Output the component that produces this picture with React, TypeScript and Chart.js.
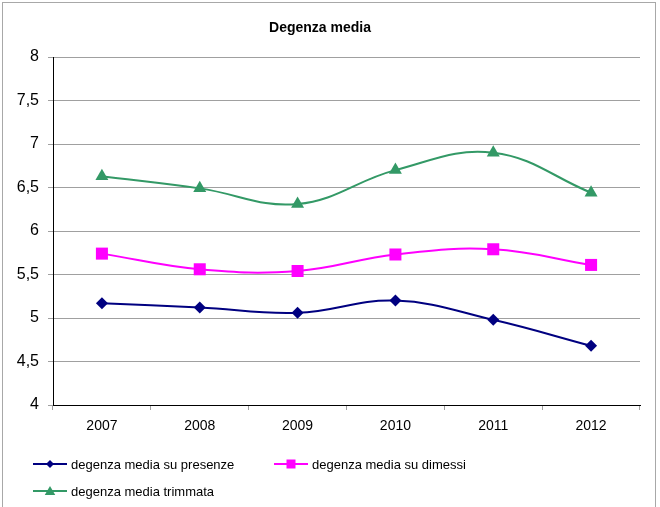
import React, { useEffect, useRef } from 'react';
import { Chart, registerables } from 'chart.js';

Chart.register(...registerables);

const categories = ['2007', '2008', '2009', '2010', '2011', '2012'];
const presenze = [5.17, 5.12, 5.06, 5.2, 4.98, 4.68];
const dimessi = [5.74, 5.56, 5.54, 5.73, 5.79, 5.61];
const trimmata = [6.63, 6.49, 6.31, 6.7, 6.9, 6.44];
const seriesLabels = ['degenza media su presenze', 'degenza media su dimessi', 'degenza media trimmata'];
const titleText = 'Degenza media';
const yMin = 4;
const yMax = 8;
const yStep = 0.5;

const FONT = '"Liberation Sans", Arial, sans-serif';

function drawMarker(ctx: CanvasRenderingContext2D, style: string, x: number, y: number, r: number, color: string) {
  ctx.save();
  ctx.fillStyle = color;
  ctx.beginPath();
  if (style === 'rectRot') {
    ctx.moveTo(x, y - r);
    ctx.lineTo(x + r, y);
    ctx.lineTo(x, y + r);
    ctx.lineTo(x - r, y);
  } else if (style === 'rect') {
    ctx.rect(x - r, y - r, 2 * r, 2 * r);
  } else {
    ctx.moveTo(x, y - r);
    ctx.lineTo(x + r * 1.05, y + r * 0.8);
    ctx.lineTo(x - r * 1.05, y + r * 0.8);
  }
  ctx.closePath();
  ctx.fill();
  ctx.restore();
}

const legendPlugin = {
  id: 'customLegend',
  beforeDraw(chart: any) {
    const ctx = chart.ctx;
    ctx.save();
    ctx.fillStyle = '#ffffff';
    ctx.fillRect(0, 0, chart.width, chart.height);
    ctx.strokeStyle = '#a8a8a8';
    ctx.lineWidth = 1;
    ctx.strokeRect(2.5, 2.5, 653, 520);
    ctx.restore();
  },
  afterDraw(chart: any) {
    const ctx = chart.ctx;
    const pos = [
      [33, 464],
      [274, 464],
      [33, 491],
    ];
    const markerSizes = [4, 4.5, 5];
    chart.data.datasets.forEach((ds: any, i: number) => {
      const [x, y] = pos[i];
      ctx.save();
      ctx.strokeStyle = ds.borderColor;
      ctx.lineWidth = 2;
      ctx.beginPath();
      ctx.moveTo(x, y);
      ctx.lineTo(x + 34, y);
      ctx.stroke();
      drawMarker(ctx, ds.pointStyle, x + 17, y, markerSizes[i], ds.borderColor);
      ctx.fillStyle = '#000000';
      ctx.font = `13px ${FONT}`;
      ctx.textBaseline = 'middle';
      ctx.textAlign = 'left';
      ctx.fillText(ds.label, x + 38, y + 1);
      ctx.restore();
    });
  },
};

export default function App() {
  const ref = useRef<HTMLCanvasElement | null>(null);

  useEffect(() => {
    document.body.style.margin = '0';
    const canvas = ref.current;
    if (!canvas) return;
    const chart = new Chart(canvas, {
      type: 'line',
      data: {
        labels: categories,
        datasets: [
          {
            label: seriesLabels[0],
            data: presenze,
            borderColor: '#000080',
            backgroundColor: '#000080',
            borderWidth: 2,
            pointStyle: 'rectRot',
            pointRadius: 6,
            pointHoverRadius: 6,
            pointBorderWidth: 0,
            tension: 0.4,
            clip: false,
          },
          {
            label: seriesLabels[1],
            data: dimessi,
            borderColor: '#ff00ff',
            backgroundColor: '#ff00ff',
            borderWidth: 2,
            pointStyle: 'rect',
            pointRadius: 8.5,
            pointHoverRadius: 8.5,
            pointBorderWidth: 0,
            tension: 0.4,
            clip: false,
          },
          {
            label: seriesLabels[2],
            data: trimmata,
            borderColor: '#339966',
            backgroundColor: '#339966',
            borderWidth: 2,
            pointStyle: 'triangle',
            pointRadius: 7.5,
            pointHoverRadius: 7.5,
            pointBorderWidth: 0,
            tension: 0.4,
            clip: false,
          },
        ],
      } as any,
      options: {
        responsive: false,
        animation: false,
        devicePixelRatio: 1,
        layout: { padding: { left: 0, right: 20, top: 10, bottom: 62 } },
        plugins: {
          legend: { display: false },
          tooltip: { enabled: false },
          title: {
            display: true,
            text: titleText,
            color: '#000000',
            font: { family: FONT, size: 14, weight: 'bold', lineHeight: 1.2 },
            padding: { top: 10, bottom: 20.2 },
          },
        },
        scales: {
          x: {
            type: 'category',
            offset: true,
            grid: {
              display: true,
              drawOnChartArea: false,
              drawTicks: true,
              tickLength: 5,
              offset: true,
              color: '#a0a0a0',
            },
            border: { display: true, color: '#000000', width: 1 },
            ticks: {
              color: '#000000',
              font: { family: FONT, size: 14 },
              padding: 8,
              maxRotation: 0,
            },
            afterFit(scale: any) {
              scale.height = 40;
            },
          },
          y: {
            min: yMin,
            max: yMax,
            grid: {
              color: '#a0a0a0',
              drawTicks: true,
              tickLength: 5,
              tickColor: '#a0a0a0',
            },
            border: { display: true, color: '#000000', width: 1 },
            ticks: {
              stepSize: yStep,
              color: '#000000',
              font: { family: FONT, size: 16 },
              padding: 9,
              callback: (v: any) => String(v).replace('.', ','),
            },
            afterFit(scale: any) {
              scale.width = 53;
            },
          },
        },
      } as any,
      plugins: [legendPlugin],
    });
    return () => chart.destroy();
  }, []);

  return (
    <div style={{ position: 'absolute', left: 0, top: 0, width: 660, height: 507 }}>
      <canvas ref={ref} width={660} height={507} style={{ display: 'block' }} />
    </div>
  );
}
